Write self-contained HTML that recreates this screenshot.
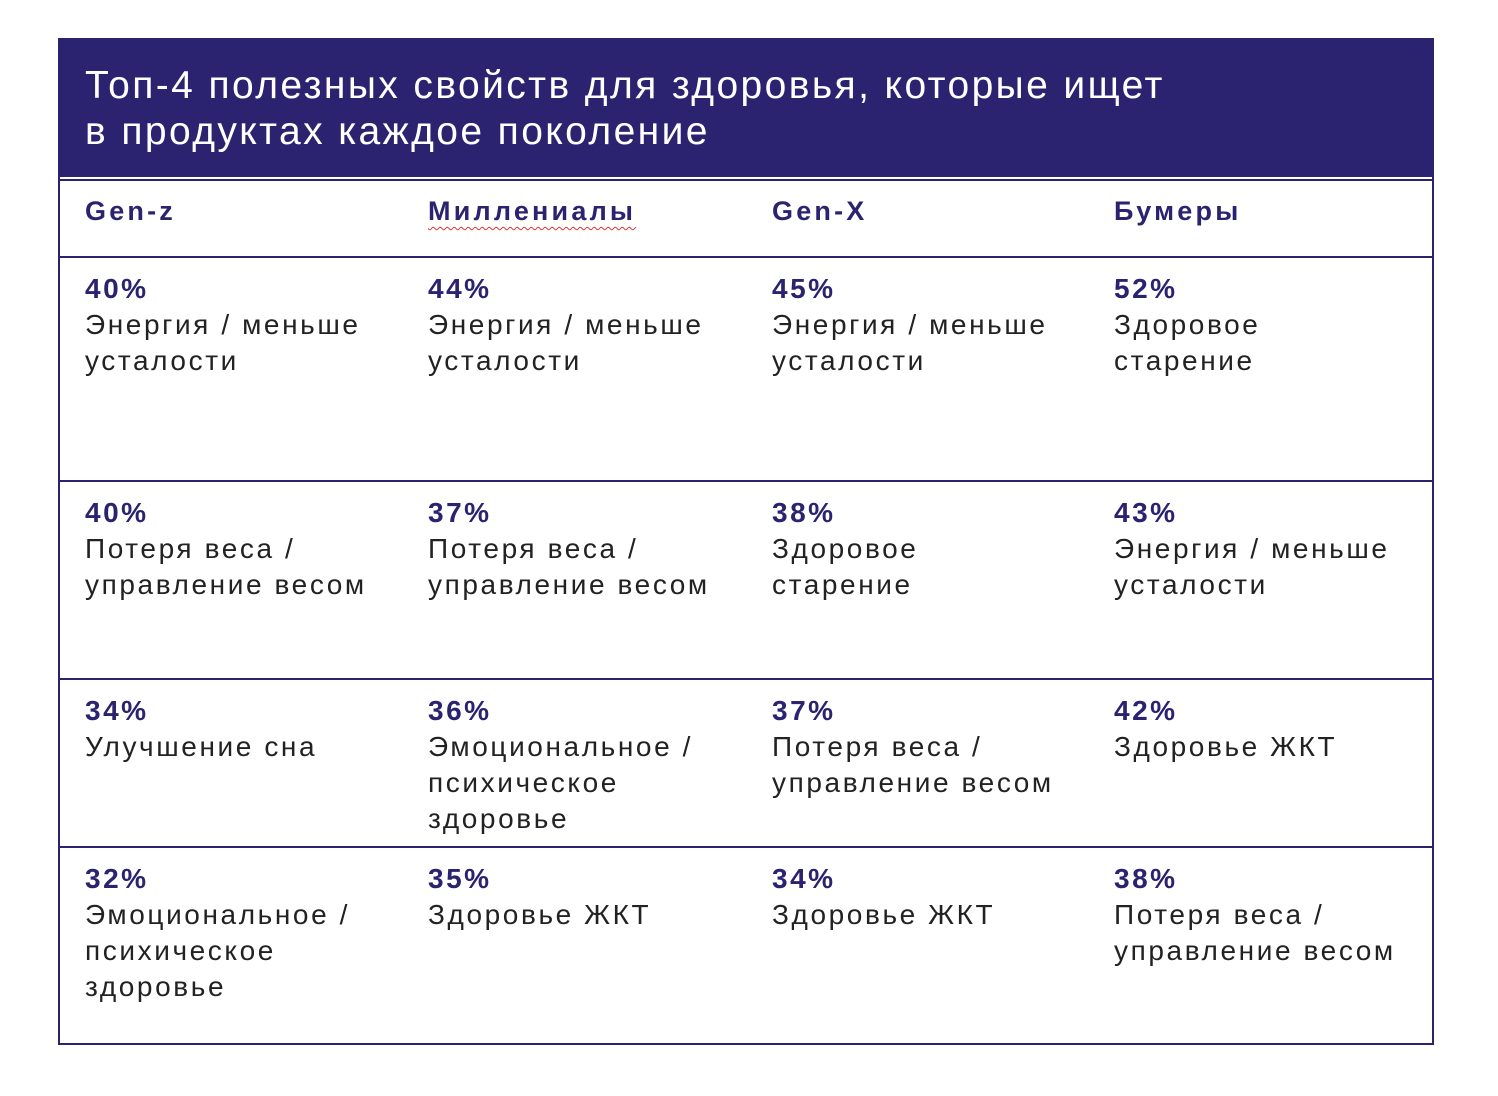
<!DOCTYPE html>
<html><head><meta charset="utf-8">
<style>
body{margin:0;width:1498px;height:1096px;background:#fff;position:relative;overflow:hidden;font-family:"Liberation Sans","DejaVu Sans",sans-serif;}
.frame{position:absolute;left:58px;top:38px;width:1372px;height:1005px;border:2px solid #2b2270;border-top:none;}
.hdr{position:absolute;left:58px;top:38px;width:1376px;height:139px;background:#2b2270;}
.title{position:absolute;left:85px;top:63px;color:#fff;font-size:39px;line-height:46px;white-space:nowrap;letter-spacing:2.4px;}
.hl{position:absolute;left:58px;width:1376px;height:2px;background:#2b2270;}
.gen{position:absolute;top:196px;color:#2b2270;font-weight:bold;font-size:27px;line-height:30px;letter-spacing:3.2px;}
.pct{position:absolute;color:#2b2270;font-weight:bold;font-size:28px;line-height:30px;letter-spacing:2.5px;}
.txt{position:absolute;color:#222;font-size:28px;line-height:36px;letter-spacing:2.6px;white-space:nowrap;}
</style></head><body>
<div class="hdr"></div>
<div class="title">Топ-4 полезных свойств для здоровья, которые ищет<br>в продуктах каждое поколение</div>
<div class="frame"></div>
<div class="hl" style="top:179px"></div>
<div class="hl" style="top:256px"></div>
<div class="hl" style="top:480px"></div>
<div class="hl" style="top:678px"></div>
<div class="hl" style="top:846px"></div>
<div class="gen" style="left:85px">Gen-z</div>
<div class="gen" style="left:428px;text-decoration:underline wavy #d33;text-underline-offset:6px;text-decoration-thickness:1px">Миллениалы</div>
<div class="gen" style="left:772px">Gen-X</div>
<div class="gen" style="left:1114px">Бумеры</div>
<div id="cells"></div>
<script>
const colX=[85,428,772,1114];
const rowTop=[257,481,679,847];
const pcts=[["40%","44%","45%","52%"],["40%","37%","38%","43%"],["34%","36%","37%","42%"],["32%","35%","34%","38%"]];
const labels=[
["Энергия / меньше<br>усталости","Энергия / меньше<br>усталости","Энергия / меньше<br>усталости","Здоровое<br>старение"],
["Потеря веса /<br>управление весом","Потеря веса /<br>управление весом","Здоровое<br>старение","Энергия / меньше<br>усталости"],
["Улучшение сна","Эмоциональное /<br>психическое<br>здоровье","Потеря веса /<br>управление весом","Здоровье ЖКТ"],
["Эмоциональное /<br>психическое<br>здоровье","Здоровье ЖКТ","Здоровье ЖКТ","Потеря веса /<br>управление весом"]];
const c=document.getElementById('cells');
for(let r=0;r<4;r++)for(let k=0;k<4;k++){
 const p=document.createElement('div');p.className='pct';
 
 
 p.style.left=colX[k]+'px';p.style.top=(rowTop[r]+17)+'px';p.textContent=pcts[r][k];c.appendChild(p);
 const t=document.createElement('div');t.className='txt';
 
 
 t.style.left=colX[k]+'px';t.style.top=(rowTop[r]+50)+'px';t.innerHTML=labels[r][k];c.appendChild(t);
}
</script>
</body></html>
